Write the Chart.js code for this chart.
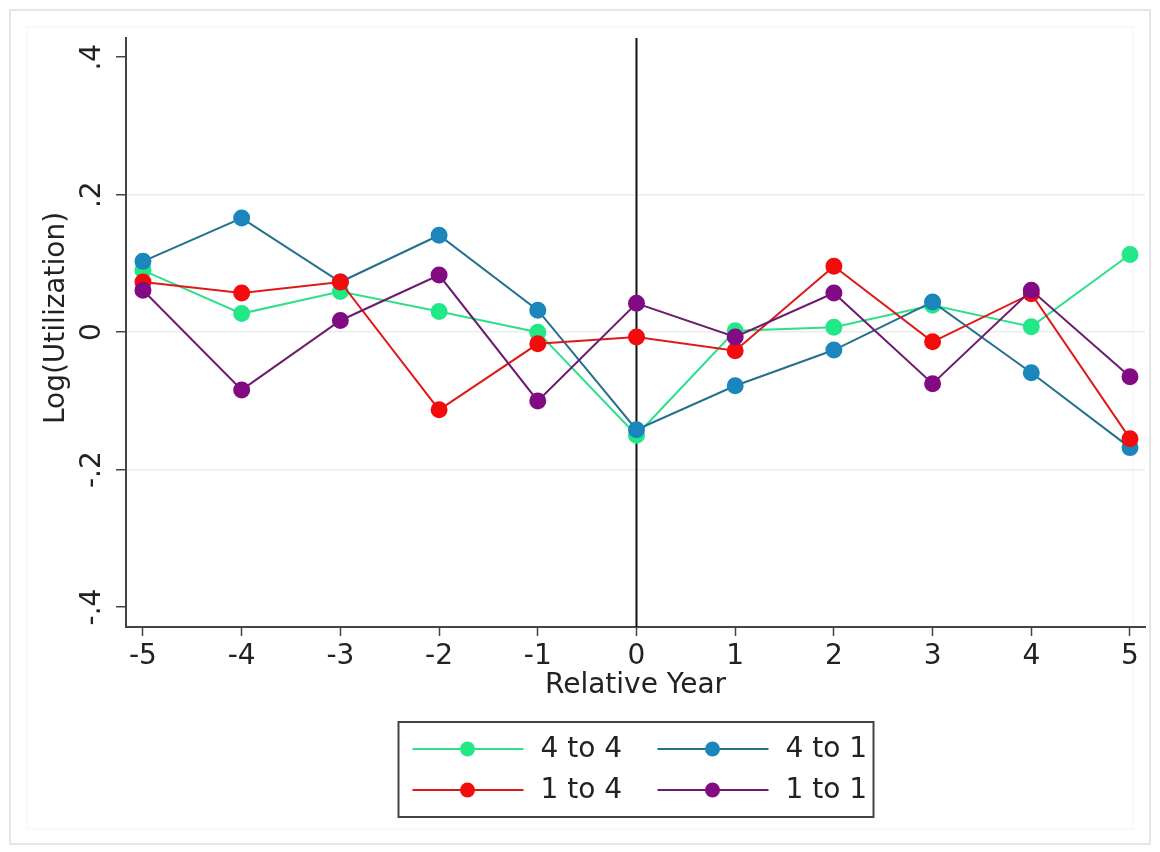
<!DOCTYPE html>
<html>
<head>
<meta charset="utf-8">
<script src="https://cdn.jsdelivr.net/npm/chart.js@4.4.1/dist/chart.umd.min.js"></script>
<style>
  html, body { margin: 0; padding: 0; background: #fff; }
  #wrap { width: 1160px; height: 852px; }
</style>
</head>
<body>
<div id="wrap"><canvas id="myChart"></canvas></div>
<script>
// relative years and the four series
const years = [-5, -4, -3, -2, -1, 0, 1, 2, 3, 4, 5];
const yTicks = [-0.4, -0.2, 0, 0.2, 0.4];
const fourToFour = [0.090, 0.027, 0.059, 0.030, 0.000, -0.150, 0.002, 0.007, 0.039, 0.008, 0.113];
const fourToOne = [0.103, 0.166, 0.073, 0.141, 0.032, -0.142, -0.078, -0.026, 0.044, -0.059, -0.168];
const oneToFour = [0.073, 0.057, 0.073, -0.113, -0.017, -0.007, -0.027, 0.096, -0.014, 0.056, -0.155];
const oneToOne = [0.061, -0.084, 0.017, 0.083, -0.100, 0.042, -0.007, 0.057, -0.075, 0.061, -0.065];

const FONT = '"DejaVu Sans", Verdana, sans-serif';
const TXT = '#222';
const AXIS = '#444';

const pts = arr => arr.map((v, i) => ({x: years[i], y: v}));
const fmtY = v => v === 0 ? '0' : (v < 0 ? '-' : '') + Math.abs(v).toFixed(1).replace(/^0/, '');

function series(label, vals, color, line, order) {
  return {
    label: label,
    data: pts(vals),
    borderColor: line,
    backgroundColor: color,
    pointBackgroundColor: color,
    pointBorderColor: color,
    pointRadius: 7.5,
    pointHoverRadius: 7.5,
    borderWidth: 2,
    tension: 0,
    order: order
  };
}

const dataU = {
  datasets: [
    series('4 to 4', fourToFour, '#22e887', '#2ee08a', 4),
    series('4 to 1', fourToOne, '#1b86bc', '#24708f', 3),
    series('1 to 4', oneToFour, '#f20c0c', '#e01818', 2),
    series('1 to 1', oneToOne, '#820a82', '#6e1a6e', 1)
  ]
};

// frame, zero line, rotated y labels + title and the boxed legend
const extras = {
  id: 'extras',
  beforeDraw(chart) {
    const c = chart.ctx;
    c.save();
    c.fillStyle = '#fff';
    c.fillRect(0, 0, chart.width, chart.height);
    c.strokeStyle = '#e6e6e6';
    c.lineWidth = 2;
    c.strokeRect(10, 10, chart.width - 20, chart.height - 18);
    c.strokeStyle = '#f6f6f6';
    c.lineWidth = 1;
    c.strokeRect(27, 27, chart.width - 54, chart.height - 50);
    c.restore();
  },
  beforeDatasetsDraw(chart) {
    const c = chart.ctx, a = chart.chartArea;
    const x0 = chart.scales.x.getPixelForValue(0);
    c.save();
    c.strokeStyle = '#111';
    c.lineWidth = 2;
    c.beginPath();
    c.moveTo(x0, a.top);
    c.lineTo(x0, a.bottom);
    c.stroke();
    c.restore();
  },
  afterDraw(chart) {
    const c = chart.ctx, ys = chart.scales.y, a = chart.chartArea;
    c.save();
    c.fillStyle = TXT;
    c.font = '28px ' + FONT;
    c.textAlign = 'center';
    c.textBaseline = 'middle';
    ys.ticks.forEach(t => {
      c.save();
      c.translate(93, ys.getPixelForValue(t.value));
      c.rotate(-Math.PI / 2);
      c.fillText(fmtY(t.value), 0, 0);
      c.restore();
    });
    c.save();
    c.translate(57, 318);
    c.rotate(-Math.PI / 2);
    c.fillText('Log(Utilization)', 0, 0);
    c.restore();

    // legend, two columns
    const cx = (a.left + a.right) / 2;
    const bx = cx - 237, by = 722, bw = 475, bh = 95;
    c.strokeStyle = AXIS;
    c.lineWidth = 2;
    c.strokeRect(bx, by, bw, bh);
    c.textAlign = 'left';
    chart.data.datasets.forEach((ds, i) => {
      const col = i % 2, row = Math.floor(i / 2);
      const lx = bx + 14 + col * 245;
      const ly = by + 27 + row * 41;
      c.strokeStyle = ds.borderColor;
      c.lineWidth = 2;
      c.beginPath();
      c.moveTo(lx, ly);
      c.lineTo(lx + 111, ly);
      c.stroke();
      c.fillStyle = ds.pointBackgroundColor;
      c.beginPath();
      c.arc(lx + 55, ly, 7.5, 0, Math.PI * 2);
      c.fill();
      c.fillStyle = TXT;
      c.fillText(ds.label, lx + 128, ly + 1);
    });
    c.restore();
  }
};

const configU = {
  type: 'line',
  data: dataU,
  options: {
    responsive: true,
    maintainAspectRatio: false,
    animation: false,
    layout: { padding: { left: 0, right: 15, top: 38, bottom: 147 } },
    plugins: {
      legend: { display: false },
      tooltip: { enabled: false }
    },
    scales: {
      x: {
        type: 'linear',
        min: -5.172,
        max: 5.152,
        afterBuildTicks: s => { s.ticks = years.map(v => ({value: v})); },
        afterFit: s => { s.height = 78; },
        grid: { drawOnChartArea: false, tickLength: 9, tickColor: AXIS, tickWidth: 1.5 },
        border: { color: AXIS, width: 2 },
        ticks: { color: TXT, font: { family: FONT, size: 28 }, padding: 4, maxRotation: 0 },
        title: { display: true, text: 'Relative Year', color: TXT, font: { family: FONT, size: 28 }, padding: { top: 0, bottom: 2 } }
      },
      y: {
        type: 'linear',
        min: -0.429,
        max: 0.428,
        afterBuildTicks: s => { s.ticks = yTicks.map(v => ({value: v})); },
        afterFit: s => { s.width = 126; },
        grid: {
          color: ctx => (ctx.tick && Math.abs(ctx.tick.value) > 0.3) ? 'rgba(0,0,0,0)' : '#ececec',
          lineWidth: 1.5,
          tickLength: 10,
          tickColor: AXIS,
          tickWidth: 1.5
        },
        border: { color: AXIS, width: 2 },
        ticks: { display: false },
        title: { display: false }
      }
    }
  },
  plugins: [extras]
};

const myChartU = new Chart(document.getElementById('myChart'), configU);
</script>
</body>
</html>
